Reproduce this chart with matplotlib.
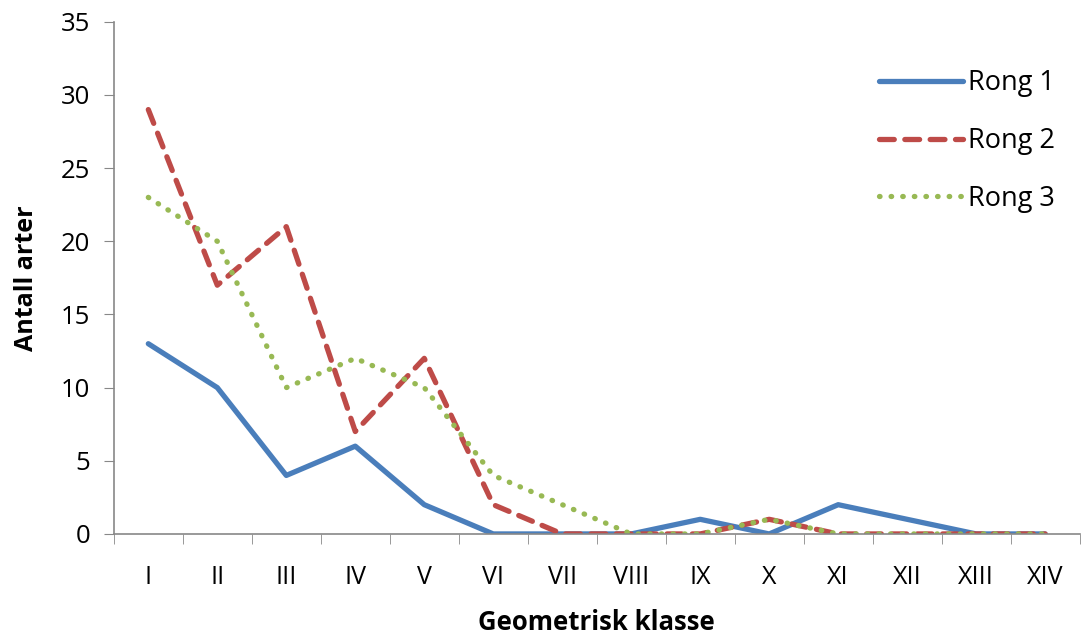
#!/usr/bin/env python3

import numpy as np
import matplotlib
matplotlib.use("Agg")
import matplotlib.pyplot as plt

plt.rcParams["font.family"] = ["Open Sans", "DejaVu Sans"]

# data
classes = ["I", "II", "III", "IV", "V", "VI", "VII", "VIII", "IX", "X", "XI", "XII", "XIII", "XIV"]
rong1 = [13, 10, 4, 6, 2, 0, 0, 0, 1, 0, 2, 1, 0, 0]
rong2 = [29, 17, 21, 7, 12, 2, 0, 0, 0, 1, 0, 0, 0, 0]
rong3 = [23, 20, 10, 12, 10, 4, 2, 0, 0, 1, 0, 0, 0, 0]

fig = plt.figure(figsize=(10.84, 6.41), dpi=100)
ax = fig.add_axes([0.105, 0.167, 0.891, 0.799])

x = np.arange(len(classes))
lw = 3.8
ax.plot(x, rong1, color="#4A7EBB", lw=lw, solid_capstyle="round", label="Rong 1")
ax.plot(x, rong2, color="#BE4B48", lw=lw, linestyle=(0, (2.8, 2.0)), dash_capstyle="round", label="Rong 2")
ax.plot(x, rong3, color="#98B954", lw=lw, linestyle=(0, (0.1, 2.1)), dash_capstyle="round", label="Rong 3")

ax.set_xlim(-0.5, len(classes) - 0.5)
ax.set_ylim(0, 35)
ax.set_yticks(range(0, 36, 5))
ax.set_xticks(x)
ax.set_xticklabels(classes)
ax.set_xticks(np.arange(-0.5, len(classes), 1), minor=True)
ax.tick_params(axis="x", which="major", length=0, pad=22, labelsize=18)
ax.tick_params(axis="x", which="minor", length=7, color="#888888", direction="out")
ax.tick_params(axis="y", length=7, color="#888888", direction="out", labelsize=18.5, pad=10)

for s in ["top", "right"]:
    ax.spines[s].set_visible(False)
for s in ["left", "bottom"]:
    ax.spines[s].set_color("#888888")
    ax.spines[s].set_linewidth(1.2)

ax.set_xlabel("Geometrisk klasse", fontsize=18.5, fontweight="bold", labelpad=14)
ax.set_ylabel("Antall arter", fontsize=18, fontweight="bold", labelpad=16)

ax.legend(loc="upper right", bbox_to_anchor=(1.0, 0.955), frameon=False, fontsize=19.5,
          handlelength=3.1, handletextpad=0.2, labelspacing=1.1)

fig.savefig("out.png", dpi=100)
